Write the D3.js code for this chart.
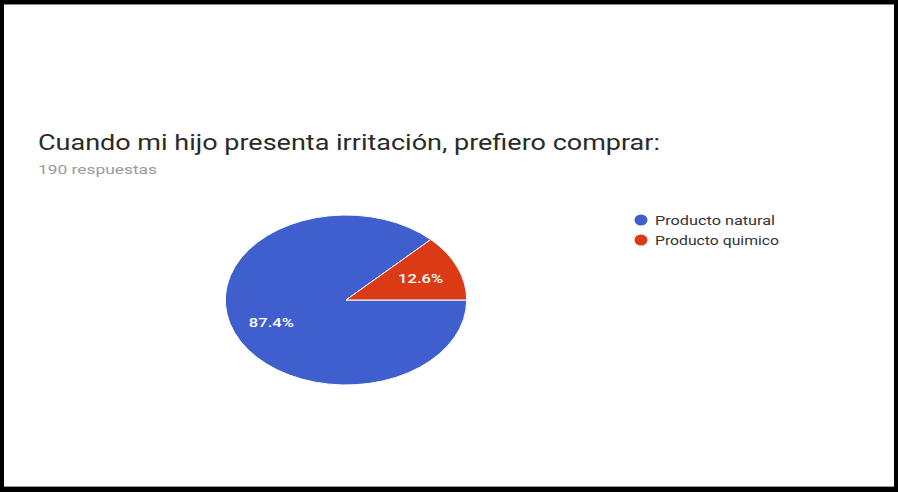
<!DOCTYPE html>
<html>
<head>
<meta charset="utf-8">
<script src="https://cdn.jsdelivr.net/npm/d3@7/dist/d3.min.js"></script>
<style>
  html, body { margin: 0; padding: 0; background: #fff; }
  svg { display: block; }
  text { font-family: Roboto, Arial, sans-serif; }
</style>
</head>
<body>
<svg id="chart" width="898" height="492"></svg>
<script>
// Survey answers
const title = "Cuando mi hijo presenta irritación, prefiero comprar:";
const subtitle = "190 respuestas";
const categories = ["Producto natural", "Producto quimico"];
const shares = [87.4, 12.6];
const colors = ["#3f5fcf", "#db3b14"];

const W = 898, H = 492;
const svg = d3.select("#chart");

// Frame
svg.append("rect").attr("x", 0).attr("y", 0).attr("width", W).attr("height", H).attr("fill", "#000");
svg.append("rect").attr("x", 4).attr("y", 4).attr("width", W - 8).attr("height", H - 9).attr("fill", "#fff");
svg.append("line").attr("x1", 4).attr("x2", W - 4).attr("y1", 4.5).attr("y2", 4.5)
  .attr("stroke", "#888").attr("stroke-width", 1);
svg.append("line").attr("x1", 4).attr("x2", W - 4).attr("y1", H - 5.5).attr("y2", H - 5.5)
  .attr("stroke", "#999").attr("stroke-width", 1);

// Heading
svg.append("text").attr("x", 38).attr("y", 150)
  .attr("font-size", 22).attr("fill", "#2a2a2a")
  .attr("textLength", 622).attr("lengthAdjust", "spacingAndGlyphs")
  .text(title);
svg.append("text").attr("x", 38).attr("y", 174)
  .attr("font-size", 13).attr("fill", "#9a9a9a")
  .attr("textLength", 119).attr("lengthAdjust", "spacingAndGlyphs")
  .text(subtitle);

// Pie (drawn as a circle, stretched horizontally)
const R = 85, sx = 1.42, cx = 346, cy = 300;
const pie = d3.pie().sort(null).value(d => d)
  .startAngle(Math.PI / 2).endAngle(Math.PI / 2 + 2 * Math.PI);
const arcs = pie(shares);
const arc = d3.arc().innerRadius(0).outerRadius(R);
const labelArc = d3.arc().innerRadius(R * 0.67).outerRadius(R * 0.67);

const g = svg.append("g").attr("transform", `translate(${cx},${cy}) scale(${sx},1)`);
g.selectAll("path").data(arcs).join("path")
  .attr("d", arc)
  .attr("fill", (d, i) => colors[i])
  .attr("stroke", "#fff")
  .attr("stroke-width", 1)
  .attr("vector-effect", "non-scaling-stroke");

svg.selectAll("text.pct").data(arcs).join("text")
  .attr("class", "pct")
  .attr("x", d => cx + labelArc.centroid(d)[0] * sx)
  .attr("y", d => cy + labelArc.centroid(d)[1] + 5)
  .attr("text-anchor", "middle")
  .attr("font-size", 13).attr("font-weight", 500).attr("fill", "#fff")
  .attr("textLength", 45).attr("lengthAdjust", "spacingAndGlyphs")
  .text(d => d.data.toFixed(1) + "%");

// Legend
const lg = svg.append("g");
const items = lg.selectAll("g").data(categories).join("g")
  .attr("transform", (d, i) => `translate(641,${220 + i * 20})`);
items.append("ellipse").attr("rx", 6.5).attr("ry", 5.5)
  .attr("fill", (d, i) => colors[i]);
items.append("text").attr("x", 14).attr("y", 4.5)
  .attr("font-size", 13).attr("fill", "#333")
  .attr("textLength", (d, i) => i === 0 ? 120 : 124).attr("lengthAdjust", "spacingAndGlyphs")
  .text(d => d);
</script>
</body>
</html>
